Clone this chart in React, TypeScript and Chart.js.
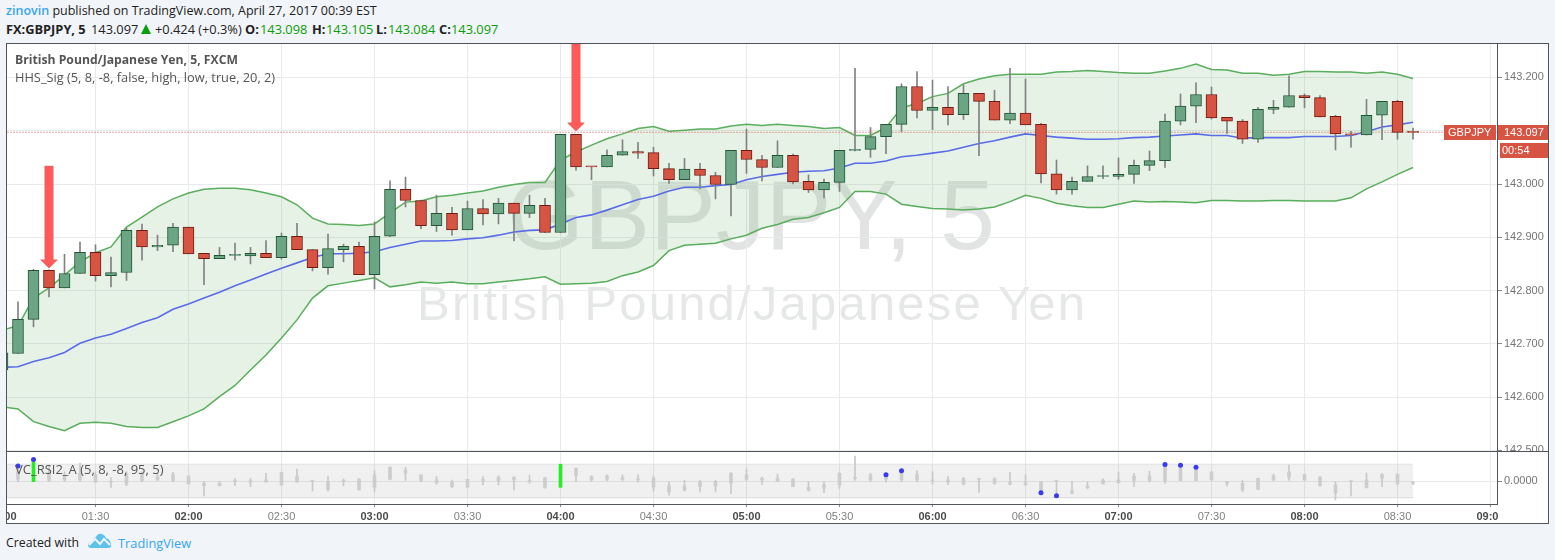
import React, { useEffect, useRef } from "react";
import { Chart, registerables } from "chart.js";

Chart.register(...registerables);

const opens = [142.651,142.682,142.746,142.838,142.805,142.832,142.872,142.828,142.834,142.913,142.882,142.885,142.919,142.870,142.860,142.866,142.865,142.870,142.862,142.902,142.877,142.843,142.877,142.883,142.830,142.902,142.990,142.969,142.922,142.945,142.914,142.954,142.944,142.964,142.945,142.960,142.909,143.093,143.033,143.032,143.054,143.061,143.059,143.029,143.008,143.028,143.016,142.999,143.063,143.046,143.031,143.054,143.005,142.989,143.003,143.063,143.065,143.089,143.112,143.183,143.138,143.144,143.130,143.170,143.155,143.120,143.133,143.112,143.019,142.989,143.005,143.014,143.014,143.018,143.035,143.044,143.118,143.146,143.168,143.125,143.118,143.084,143.140,143.144,143.166,143.162,143.127,143.094,143.092,143.129,143.155,143.098];
const highs = [142.683,142.779,142.840,142.839,142.868,142.891,142.886,142.863,142.917,142.925,142.904,142.926,142.919,142.870,142.881,142.889,142.881,142.894,142.908,142.926,142.877,142.906,142.887,142.891,142.929,143.006,143.013,142.970,142.979,142.956,142.968,142.971,142.973,142.964,142.979,142.973,143.093,143.093,143.033,143.064,143.083,143.078,143.069,143.039,143.048,143.039,143.022,143.063,143.103,143.054,143.081,143.056,143.017,143.009,143.063,143.217,143.106,143.112,143.188,143.211,143.195,143.183,143.186,143.170,143.176,143.217,143.197,143.114,143.045,143.013,143.034,143.034,143.049,143.045,143.062,143.131,143.169,143.190,143.182,143.125,143.121,143.144,143.157,143.203,143.169,143.166,143.129,143.099,143.159,143.155,143.157,143.105];
const lows = [142.651,142.682,142.732,142.788,142.805,142.832,142.818,142.807,142.819,142.857,142.875,142.873,142.869,142.811,142.860,142.857,142.850,142.862,142.859,142.877,142.837,142.831,142.854,142.830,142.803,142.901,142.957,142.916,142.911,142.904,142.914,142.923,142.925,142.893,142.937,142.909,142.909,143.026,143.008,143.032,143.054,143.048,143.015,143.001,143.008,142.991,142.972,142.940,143.020,143.006,143.031,143.000,142.984,142.974,142.986,143.062,143.050,143.057,143.098,143.124,143.102,143.111,143.121,143.053,143.120,143.113,143.111,143.002,142.981,142.981,143.005,143.010,143.009,143.001,143.025,143.031,143.111,143.115,143.122,143.095,143.076,143.078,143.132,143.144,143.143,143.126,143.064,143.069,143.092,143.083,143.084,143.084];
const closes = [142.683,142.746,142.838,142.805,142.832,142.872,142.828,142.834,142.913,142.882,142.885,142.919,142.869,142.860,142.866,142.866,142.870,142.862,142.902,142.877,142.843,142.879,142.883,142.830,142.902,142.990,142.969,142.922,142.945,142.914,142.954,142.944,142.964,142.945,142.960,142.909,143.093,143.032,143.032,143.054,143.061,143.058,143.029,143.008,143.028,143.016,142.999,143.063,143.046,143.031,143.054,143.004,142.989,143.003,143.063,143.065,143.089,143.112,143.183,143.138,143.144,143.130,143.170,143.155,143.120,143.133,143.111,143.019,142.989,143.005,143.014,143.014,143.018,143.035,143.044,143.118,143.146,143.168,143.124,143.118,143.084,143.140,143.144,143.166,143.162,143.126,143.094,143.092,143.129,143.155,143.097,143.097];
const bbUpper = [142.726,142.734,142.786,142.805,142.829,142.854,142.871,142.882,142.919,142.938,142.957,142.972,142.983,142.990,142.992,142.992,142.989,142.983,142.976,142.961,142.936,142.925,142.924,142.922,142.925,142.946,142.966,142.968,142.976,142.979,142.983,142.987,142.994,142.999,143.003,143.003,143.045,143.060,143.073,143.085,143.094,143.104,143.108,143.099,143.101,143.103,143.103,143.109,143.112,143.110,143.112,143.110,143.108,143.104,143.106,143.091,143.091,143.106,143.143,143.151,143.164,143.170,143.188,143.197,143.203,143.206,143.206,143.206,143.210,143.211,143.213,143.211,143.209,143.208,143.208,143.212,143.217,143.225,143.215,143.214,143.208,143.208,143.204,143.206,143.211,143.211,143.210,143.210,143.208,143.210,143.206,143.198];
const bbMid = [142.656,142.657,142.667,142.674,142.684,142.701,142.711,142.718,142.729,142.740,142.749,142.765,142.775,142.786,142.797,142.809,142.820,142.831,142.842,142.852,142.862,142.869,142.869,142.870,142.873,142.881,142.887,142.893,142.893,142.894,142.897,142.899,142.904,142.910,142.913,142.914,142.925,142.937,142.942,142.951,142.961,142.971,142.977,142.987,142.994,142.994,142.997,142.999,143.008,143.014,143.018,143.022,143.024,143.025,143.030,143.039,143.039,143.043,143.051,143.054,143.058,143.062,143.069,143.076,143.081,143.088,143.094,143.091,143.088,143.086,143.084,143.084,143.085,143.087,143.088,143.090,143.092,143.094,143.091,143.091,143.086,143.087,143.087,143.087,143.089,143.089,143.089,143.091,143.098,143.107,143.111,143.116];
const bbLower = [142.582,142.578,142.554,142.545,142.537,142.551,142.553,142.551,142.545,142.543,142.543,142.554,142.565,142.578,142.601,142.622,142.651,142.679,142.711,142.745,142.786,142.809,142.814,142.819,142.824,142.807,142.811,142.816,142.814,142.816,142.813,142.813,142.816,142.819,142.822,142.826,142.812,142.813,142.814,142.817,142.828,142.835,142.847,142.875,142.885,142.887,142.889,142.897,142.904,142.917,142.924,142.934,142.937,142.946,142.956,142.986,142.986,142.981,142.962,142.958,142.954,142.953,142.951,142.953,142.957,142.967,142.979,142.973,142.964,142.959,142.956,142.956,142.962,142.968,142.966,142.967,142.966,142.965,142.969,142.969,142.968,142.968,142.969,142.969,142.968,142.968,142.968,142.974,142.991,143.004,143.018,143.031];

const rsiTop = [1,4.4,9,4,2.9,3.7,2.9,0,3.2,3.2,2.1,3.2,2.4,-1.1,-1.1,0.1,0.2,0.5,4,2.4,0.1,0,0.1,1,2.9,6.5,5.2,2.9,0.5,0,0.8,0.8,1.7,1.7,0.1,1.6,8,6,2.2,2.4,1.6,0.8,1.3,-2.2,-2.4,-0.3,-0.3,3.7,2.9,1.3,1.4,1,-3,-1.9,3.7,1.7,2.9,2.1,3.7,3.3,0.5,0.5,1.3,1.3,1,-0.6,-0.8,-0.3,0.1,-4.6,-2.4,0.5,0.5,2.4,2.4,7.6,6,5.2,4,0,-1.1,1.3,2.4,4.3,3.2,1.9,-1.9,0,0.5,3.2,3.2,-0.5];
const rsiBottom = [-1,0.8,-0.3,0,0.5,0.5,-0.6,-0.6,-1.4,0.2,0.5,0,-1.4,-2.2,-2.2,-0.1,-0.5,-0.5,-1.9,-0.5,-0.1,-4,-0.1,-4.3,-3,0.8,3.7,-0.2,-0.8,-2.7,-3,0.2,0.2,0.5,-0.1,-3.3,-3,2.4,0.5,0.8,0.6,0.5,-3,-5.2,-4.4,-2.7,-2.5,-1.1,0.8,0.5,-0.2,-2.7,-4.4,-3.5,-1.9,1.1,0.5,0.8,0.5,0.5,0,-0.5,-1.4,0.8,-1.1,-1.6,-1.7,-4.6,-0.1,-5.9,-3.2,-1.4,-0.8,0,0.2,0.2,0,0,0.5,-1.1,-4.3,-4,0.5,1.7,0.5,-2.2,-5.6,-0.2,-3.2,1.3,-1.1,-1.1];
const rsiHigh = [2,7.1,10.3,7.6,4.4,8.4,4.4,1.6,4.4,4.4,3.2,4.1,2.4,0,0,1.3,1.3,3.7,4.1,5.7,0.1,2.2,1,1,4.8,6.8,6.5,2.9,2.1,0.5,0.8,2.1,2.5,2.1,2.9,1.6,8,6.3,2.5,2.9,2.9,2.9,2.5,0,0.3,0.3,0.3,4,5.7,1.9,3.3,1,0,-0.3,4,11.9,3.7,3,4.9,4.8,4.4,2.1,1.7,1.3,1.6,4.1,2.9,-0.3,0,0,0,1,4.3,3.7,4.6,7.9,7.5,6.5,4.6,0,0.2,1.3,3.3,7.6,3.2,2.2,0,0,3.8,3.5,3.5,0];
const rsiLow = [-1.5,-0.3,-0.3,-0.3,-0.3,-0.3,-0.6,-3,-2.2,-0.3,0,-0.3,-1.4,-7.1,-2.4,-2.2,-2.7,-0.6,-1.9,-0.5,-4.8,-4.8,-2.2,-4.3,-5.1,0.5,0,-0.2,-1.6,-3.2,-3,-1.9,-1.9,-4.3,-1.1,-3.3,-3,-0.2,-0.2,0.2,0,-0.5,-4.8,-6.7,-4.8,-5.2,-5.2,-6,0,-1.6,-0.3,-2.7,-4.8,-5.6,-3.5,0,-0.3,-0.6,-0.3,-0.3,-1.4,-1.6,-1.9,-5.4,-1.6,-1.9,-2.1,-5.6,-7,-6.2,-3.7,-1.4,-1.1,-2.7,-0.5,-1.1,0,0,0.2,-2.4,-5.1,-4,0.2,0,0.2,-2.5,-9,-7.1,-3.3,-2.7,-1.9,-1.7];
const rsiSignalBars = [2, 36];
const rsiDotBars = [1, 2, 57, 58, 67, 68, 75, 76, 77];
const rsiDotValues = [7.1, 10.3, 3.0, 4.9, -5.6, -7.0, 7.9, 7.5, 6.5];
const rsiBandHigh = 8;
const rsiBandLow = -8;

const xTickBars = [0,6,12,18,24,30,36,42,48,54,60,66,72,78,84,90,96];
const xTickLabels = ["01:00","01:30","02:00","02:30","03:00","03:30","04:00","04:30","05:00","05:30","06:00","06:30","07:00","07:30","08:00","08:30","09:00"];
const priceTicks = [142.5,142.6,142.7,142.8,142.9,143.0,143.1,143.2];
const rsiTicks = [0];

const arrowBars = [3, 37];
const arrowTips = [142.842, 143.099];
const arrowTails = [143.034, 143.3];

const lastClose = 143.097;
const symbolName = "GBPJPY";
const countdown = "00:54";

const barStep = 15.5;
const barZeroPx = 2.5;

const UP = "#6ba583", UP_B = "#225437", DN = "#d75442", DN_B = "#6f1a12";
const FONT_AXIS = "'Liberation Sans', Arial, sans-serif";
const FONT_UI = "'Open Sans', sans-serif";

const bars = opens.map((_, i) => i);
const toLine = (arr: number[]) => arr.map((y, i) => ({ x: i, y }));

const noPad = (s: any) => {
  s.paddingLeft = 0;
  s.paddingRight = 0;
  s.paddingTop = 0;
  s.paddingBottom = 0;
};

const arrowPlugin = {
  id: "arrows",
  afterDatasetsDraw(chart: any) {
    const { ctx, scales } = chart;
    ctx.save();
    ctx.fillStyle = "#ff5a5a";
    arrowBars.forEach((b, k) => {
      const x = scales.x.getPixelForValue(b);
      const tip = scales.y.getPixelForValue(arrowTips[k]);
      const tail = scales.y.getPixelForValue(arrowTails[k]);
      ctx.beginPath();
      ctx.moveTo(x, tip);
      ctx.lineTo(x + 8.5, tip - 8.5);
      ctx.lineTo(x + 4.3, tip - 8.5);
      ctx.lineTo(x + 4.3, tail);
      ctx.lineTo(x - 4.3, tail);
      ctx.lineTo(x - 4.3, tip - 8.5);
      ctx.lineTo(x - 8.5, tip - 8.5);
      ctx.closePath();
      ctx.fill();
      ctx.strokeStyle = "rgba(200,60,60,0.5)";
      ctx.lineWidth = 0.5;
      ctx.stroke();
    });
    ctx.restore();
  },
};

const lastLabelPlugin = {
  id: "lastLabels",
  afterDraw(chart: any) {
    const { ctx, scales, chartArea } = chart;
    const py = Math.round(scales.y.getPixelForValue(lastClose));
    const right = chartArea.right;
    ctx.save();
    ctx.fillStyle = DN;
    ctx.fillRect(right - 53, py - 7, 52, 15);
    ctx.fillRect(right + 1, py - 7, 52, 15);
    ctx.fillRect(right + 3, py + 11, 50, 15);
    ctx.fillStyle = "#ffffff";
    ctx.font = `11px ${FONT_AXIS}`;
    ctx.textBaseline = "middle";
    ctx.textAlign = "left";
    ctx.fillText(symbolName, right - 49, py + 1);
    ctx.fillText(lastClose.toFixed(3), right + 7, py + 1);
    ctx.fillText(countdown, right + 5, py + 19);
    ctx.restore();
  },
};

function xScale(min: number, ticks: number[], showLabels: boolean) {
  return {
    type: "linear",
    min,
    max: (1497 - barZeroPx) / barStep,
    offset: false,
    afterBuildTicks: (s: any) => {
      s.ticks = ticks.map((value) => ({ value }));
    },
    afterFit: (s: any) => {
      s.height = showLabels ? 19 : 0;
      noPad(s);
    },
    border: { display: false },
    grid: {
      offset: false,
      color: "#e9eaec",
      lineWidth: 1,
      drawTicks: showLabels,
      tickLength: 3,
      tickColor: "#8a8a8a",
    },
    ticks: {
      display: showLabels,
      autoSkip: false,
      maxRotation: 0,
      minRotation: 0,
      padding: 3,
      callback: (v: number) => xTickLabels[xTickBars.indexOf(v)],
      font: (c: any) => ({
        family: FONT_AXIS,
        size: 11,
        weight: String(xTickLabels[xTickBars.indexOf(c.tick?.value)] || "").endsWith(":00") ? "bold" : "normal",
      }),
      color: (c: any) =>
        String(xTickLabels[xTickBars.indexOf(c.tick?.value)] || "").endsWith(":00") ? "#4c4c4c" : "#808080",
    },
  };
}

function yScale(min: number, max: number, ticks: number[], digits: number) {
  return {
    position: "right",
    min,
    max,
    afterBuildTicks: (s: any) => {
      s.ticks = ticks.map((value) => ({ value }));
    },
    afterFit: (s: any) => {
      s.width = 52;
      noPad(s);
    },
    border: { display: false },
    grid: { color: "#e9eaec", lineWidth: 1, tickLength: 5, tickColor: "#8a8a8a" },
    ticks: {
      padding: 2,
      autoSkip: false,
      color: "#757575",
      font: { family: FONT_AXIS, size: 11 },
      callback: (v: number) => v.toFixed(digits),
    },
  };
}

const baseOptions = {
  responsive: false,
  animation: false,
  events: [],
  layout: { autoPadding: false, padding: 0 },
  plugins: { legend: { display: false }, tooltip: { enabled: false } },
};

function makeMain(canvas: HTMLCanvasElement) {
  const xMin = (7 - barZeroPx) / barStep;
  const xMax = (1497 - barZeroPx) / barStep;
  return new Chart(canvas, {
    type: "bar",
    data: {
      datasets: [
        {
          type: "bar",
          order: 1,
          grouped: false,
          barThickness: 11,
          minBarLength: 1,
          borderWidth: 1,
          borderSkipped: false,
          data: bars.map((i) => ({ x: i, y: [opens[i], closes[i]] })),
          backgroundColor: bars.map((i) => (closes[i] >= opens[i] ? UP : DN)),
          borderColor: bars.map((i) => (closes[i] >= opens[i] ? UP_B : DN_B)),
        },
        {
          type: "bar",
          order: 2,
          grouped: false,
          barThickness: 1,
          backgroundColor: "#828284",
          borderWidth: 0,
          data: bars.map((i) => ({ x: i, y: [lows[i], highs[i]] })),
        },
        {
          type: "line",
          order: 3,
          data: [
            { x: xMin, y: lastClose },
            { x: xMax, y: lastClose },
          ],
          borderColor: "rgba(215,84,66,0.5)",
          borderWidth: 1,
          borderDash: [2, 1],
          pointRadius: 0,
        },
        {
          type: "line",
          order: 4,
          data: toLine(bbMid),
          borderColor: "#5a6be8",
          borderWidth: 1.6,
          pointRadius: 0,
          tension: 0,
        },
        {
          type: "line",
          order: 5,
          data: toLine(bbUpper),
          borderColor: "#5aae5e",
          borderWidth: 1.5,
          pointRadius: 0,
          tension: 0,
          fill: "+1",
          backgroundColor: "rgba(76,160,80,0.14)",
        },
        {
          type: "line",
          order: 6,
          data: toLine(bbLower),
          borderColor: "#5aae5e",
          borderWidth: 1.5,
          pointRadius: 0,
          tension: 0,
        },
      ],
    },
    options: {
      ...baseOptions,
      scales: {
        x: xScale(xMin, xTickBars.slice(1), false),
        y: yScale(142.499, 143.2627, priceTicks, 3),
      },
    },
    plugins: [arrowPlugin, lastLabelPlugin],
  } as any);
}

function makeLower(canvas: HTMLCanvasElement) {
  const xMin = (1 - barZeroPx) / barStep;
  return new Chart(canvas, {
    type: "bar",
    data: {
      datasets: [
        {
          type: "line",
          order: 1,
          showLine: false,
          pointRadius: 2.5,
          pointBackgroundColor: "#3a3af0",
          pointBorderWidth: 0,
          data: rsiDotBars.map((x, k) => ({ x, y: rsiDotValues[k] })),
        },
        {
          type: "bar",
          order: 2,
          grouped: false,
          barThickness: 3,
          minBarLength: 1,
          borderWidth: 0,
          data: bars.map((i) => ({ x: i, y: [rsiBottom[i], rsiTop[i]] })),
          backgroundColor: bars.map((i) => (rsiSignalBars.includes(i) ? "#22ee22" : "#cdcdcd")),
        },
        {
          type: "bar",
          order: 3,
          grouped: false,
          barThickness: 1,
          borderWidth: 0,
          backgroundColor: "#c8c8c8",
          data: bars.map((i) => ({ x: i, y: [rsiLow[i], rsiHigh[i]] })),
        },
        {
          type: "line",
          order: 4,
          data: bars.map((i) => ({ x: i, y: rsiBandHigh })),
          borderColor: "#e2e2e2",
          borderWidth: 1,
          pointRadius: 0,
          fill: "+1",
          backgroundColor: "rgba(120,120,120,0.11)",
        },
        {
          type: "line",
          order: 5,
          data: bars.map((i) => ({ x: i, y: rsiBandLow })),
          borderColor: "#e2e2e2",
          borderWidth: 1,
          pointRadius: 0,
        },
      ],
    },
    options: {
      ...baseOptions,
      scales: {
        x: xScale(xMin, xTickBars, true),
        y: yScale(-10.95, 14.29, rsiTicks, 4),
      },
    },
  } as any);
}

const abs = (left: number, top: number, extra: React.CSSProperties = {}): React.CSSProperties => ({
  position: "absolute",
  left,
  top,
  whiteSpace: "nowrap",
  lineHeight: "16px",
  ...extra,
});

const GREEN = "#0a9e0a";
const BLUE = "#37a6ef";

export default function App() {
  const mainRef = useRef<HTMLCanvasElement>(null);
  const lowerRef = useRef<HTMLCanvasElement>(null);
  useEffect(() => {
    const a = makeMain(mainRef.current!);
    const b = makeLower(lowerRef.current!);
    return () => {
      a.destroy();
      b.destroy();
    };
  }, []);
  const ohlc: [number, string, number, string][] = [
    [245, "O:", 260, "143.098"],
    [312, "H:", 326, "143.105"],
    [376, "L:", 388, "143.084"],
    [439, "C:", 451, "143.097"],
  ];
  return (
    <div style={{ position: "fixed", left: 0, top: 0, width: 1555, height: 560, overflow: "hidden", background: "#f1f4f8", fontFamily: FONT_UI, fontSize: 12.8, color: "#222" }}>
      <div style={abs(6, 3, { fontSize: 12.5 })}>
        <span style={{ color: BLUE, fontWeight: 600 }}>zinovin</span> published on TradingView.com, April 27, 2017 00:39 EST
      </div>
      <div style={abs(6, 21, { fontWeight: 700 })}>FX:GBPJPY, 5</div>
      <div style={abs(91, 21)}>143.097</div>
      <div style={abs(141, 24, { width: 0, height: 0, borderLeft: "5.5px solid transparent", borderRight: "5.5px solid transparent", borderBottom: `10px solid ${GREEN}` })} />
      <div style={abs(155, 21)}>+0.424 (+0.3%)</div>
      {ohlc.map(([lx, l, vx, v]) => (
        <React.Fragment key={l}>
          <div style={abs(lx, 21, { fontWeight: 700 })}>{l}</div>
          <div style={abs(vx, 21, { color: GREEN })}>{v}</div>
        </React.Fragment>
      ))}

      <div style={{ position: "absolute", left: 7, top: 44, width: 1542, height: 479, background: "#fff" }} />
      <div style={abs(507, 166, { fontFamily: FONT_AXIS, fontSize: 99, lineHeight: "98px", color: "rgba(60,70,70,0.15)" })}>GBPJPY, 5</div>
      <div style={abs(417, 275, { fontFamily: FONT_AXIS, fontSize: 49, lineHeight: "56px", letterSpacing: 2.2, color: "rgba(60,70,70,0.13)" })}>British Pound/Japanese Yen</div>

      <div style={{ position: "absolute", left: 7, top: 44, width: 1542, height: 407, overflow: "hidden" }}>
        <canvas ref={mainRef} width={1542} height={407} style={{ display: "block" }} />
      </div>
      <div style={{ position: "absolute", left: 7, top: 451, width: 1542, height: 72, overflow: "hidden" }}>
        <canvas ref={lowerRef} width={1548} height={72} style={{ display: "block", marginLeft: -6 }} />
      </div>
      <div style={{ position: "absolute", left: 1498, top: 505, width: 51, height: 18, background: "#fff" }} />

      <div style={abs(15, 52, { fontWeight: 700, fontSize: 12.2, color: "#555" })}>British Pound/Japanese Yen, 5, FXCM</div>
      <div style={abs(15, 69, { color: "#555" })}>HHS_Sig (5, 8, -8, false, high, low, true, 20, 2)</div>
      <div style={abs(15, 461, { color: "#555", fontSize: 13 })}>VC_RSI2_A (5, 8, -8, 95, 5)</div>

      <div style={{ position: "absolute", left: 6, top: 43, width: 1543, height: 481, boxSizing: "border-box", border: "1px solid #50555c" }} />
      <div style={{ position: "absolute", left: 1497, top: 44, width: 1, height: 460, background: "#50555c" }} />
      <div style={{ position: "absolute", left: 7, top: 451, width: 1541, height: 1, background: "#50555c" }} />
      <div style={{ position: "absolute", left: 7, top: 504, width: 1491, height: 1, background: "#50555c" }} />

      <div style={abs(6, 535, { color: "#222", fontSize: 12.3 })}>Created with</div>
      <svg style={{ position: "absolute", left: 88, top: 533 }} width={24} height={16} viewBox="0 0 24 16">
        <path d="M0 12 Q1 9 4 9 Q5 5 8 4 Q10 0 14 1 Q17 2 18 5 Q22 6 23 11 Q24 15 20 15 L3 15 Q0 15 0 12 Z" fill="#5cc2ea" />
        <path d="M1 12 L7 6 L12 11 L16 6 L22 12" fill="none" stroke="#f1f4f8" strokeWidth={2} />
      </svg>
      <div style={abs(118, 535, { color: BLUE })}>TradingView</div>
    </div>
  );
}
